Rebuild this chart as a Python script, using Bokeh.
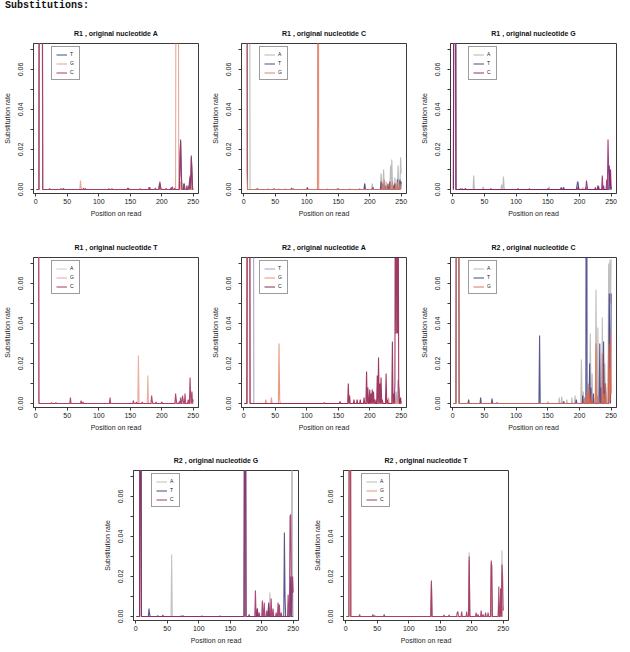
import numpy as np
from bokeh.plotting import figure
from bokeh.models import Range1d, FixedTicker, Legend, LegendItem, Div, Spacer, PrintfTickFormatter
from bokeh.layouts import row, column
from bokeh.embed import file_html
from bokeh.resources import INLINE

# ---------------- data: (position, substitution rate); all other positions 0 ----------------
POSITIONS = list(range(1, 251))

# R1, original nucleotide A
R1_A_T = [(6, 0.2), (7, 0.22), (8, 0.2), (9, 0.21), (10, 0.19), (22, 0.0004), (44, 0.0006), (79, 0.0005),
          (116, 0.0004), (147, 0.0006), (181, 0.001), (196, 0.002), (197, 0.003), (215, 0.001), (221, 0.0008),
          (229, 0.012), (230, 0.025), (231, 0.01), (235, 0.003), (240, 0.002), (244, 0.004), (245, 0.006),
          (247, 0.017), (248, 0.008)]
R1_A_G = [(6, 0.15), (7, 0.15), (8, 0.15), (9, 0.15), (10, 0.15), (71, 0.0045), (72, 0.001), (150, 0.0003),
          (200, 0.0005), (223, 0.2), (224, 0.25), (225, 0.2), (226, 0.22), (230, 0.004), (232, 0.002),
          (246, 0.003), (249, 0.002)]
R1_A_C = [(6, 0.3), (7, 0.3), (8, 0.3), (9, 0.3), (10, 0.3), (40, 0.0005), (76, 0.0008), (121, 0.0005),
          (146, 0.0008), (166, 0.0005), (180, 0.0012), (190, 0.0008), (197, 0.004), (198, 0.002), (207, 0.0006),
          (217, 0.0015), (229, 0.018), (230, 0.024), (231, 0.008), (236, 0.003), (243, 0.002), (245, 0.007),
          (247, 0.016), (248, 0.01)]

# R1, original nucleotide C
R1_C_A = [(1, 0.2), (2, 0.2), (3, 0.2), (4, 0.2), (5, 0.2), (6, 0.2), (7, 0.2), (8, 0.2), (9, 0.2),
          (20, 0.0004), (38, 0.0005), (56, 0.0004), (66, 0.0005), (76, 0.0008), (79, 0.0006), (101, 0.0008),
          (133, 0.0005), (148, 0.0005), (168, 0.0005), (184, 0.0006), (192, 0.003), (193, 0.001), (204, 0.003),
          (205, 0.001), (218, 0.008), (219, 0.004), (222, 0.01), (223, 0.004), (226, 0.004), (233, 0.012),
          (235, 0.015), (236, 0.005), (240, 0.006), (245, 0.012), (246, 0.004), (249, 0.016), (250, 0.008)]
R1_C_T = [(1, 0.2), (2, 0.2), (3, 0.2), (4, 0.2), (5, 0.2), (22, 0.0004), (48, 0.0004), (76, 0.0006),
          (101, 0.001), (150, 0.0004), (192, 0.003), (205, 0.001), (218, 0.004), (221, 0.003), (224, 0.002),
          (229, 0.003), (232, 0.004), (238, 0.002), (240, 0.003), (244, 0.005), (248, 0.005), (250, 0.004)]
R1_C_G = [(1, 0.2), (2, 0.2), (3, 0.2), (4, 0.2), (5, 0.008), (118, 0.3), (220, 0.003), (223, 0.005),
          (227, 0.002), (233, 0.004), (236, 0.004), (241, 0.002), (244, 0.004), (248, 0.003), (250, 0.002)]

# R1, original nucleotide G
R1_G_A = [(2, 0.2), (3, 0.2), (4, 0.2), (33, 0.007), (34, 0.001), (48, 0.0015), (77, 0.0025), (80, 0.0065),
          (81, 0.001), (152, 0.0015), (197, 0.002), (205, 0.001), (230, 0.002), (248, 0.01)]
R1_G_T = [(2, 0.2), (3, 0.2), (4, 0.2), (15, 0.0005), (20, 0.0006), (121, 0.0004), (171, 0.001), (175, 0.0012),
          (196, 0.002), (197, 0.004), (198, 0.003), (210, 0.001), (229, 0.002), (238, 0.002), (247, 0.012),
          (248, 0.008), (249, 0.003)]
R1_G_C = [(2, 0.25), (3, 0.25), (4, 0.25), (12, 0.0004), (60, 0.0004), (103, 0.0004), (150, 0.0005),
          (172, 0.0008), (198, 0.0015), (211, 0.0045), (212, 0.002), (225, 0.001), (230, 0.0015), (236, 0.007),
          (243, 0.005), (245, 0.025), (246, 0.01), (247, 0.006), (249, 0.01)]

# R1, original nucleotide T
R1_T_A = [(1, 0.2), (2, 0.2), (3, 0.2), (4, 0.2), (150, 0.0004), (200, 0.0006)]
R1_T_G = [(1, 0.15), (2, 0.15), (3, 0.15), (4, 0.15), (163, 0.024), (178, 0.014), (222, 0.002), (245, 0.004)]
R1_T_C = [(1, 0.3), (2, 0.3), (3, 0.3), (4, 0.3), (25, 0.0005), (32, 0.0005), (55, 0.003), (72, 0.0015),
          (75, 0.0008), (118, 0.003), (155, 0.0015), (160, 0.0008), (169, 0.0008), (184, 0.004), (185, 0.001),
          (191, 0.0008), (200, 0.0008), (222, 0.005), (223, 0.002), (228, 0.001), (230, 0.003), (233, 0.004),
          (234, 0.002), (237, 0.005), (242, 0.002), (245, 0.013), (246, 0.004), (248, 0.006), (250, 0.002)]

# R2, original nucleotide A
R2_A_T = [(6, 0.2), (7, 0.2), (8, 0.2), (9, 0.2), (10, 0.2), (11, 0.2), (12, 0.2), (13, 0.2), (14, 0.2),
          (15, 0.2), (242, 0.006), (245, 0.012), (246, 0.008), (247, 0.005)]
R2_A_G = [(6, 0.2), (7, 0.2), (8, 0.2), (9, 0.2), (35, 0.002), (44, 0.003), (56, 0.03), (57, 0.002),
          (200, 0.002), (210, 0.002), (230, 0.003), (240, 0.004), (246, 0.008), (248, 0.003)]
R2_A_C = [(6, 0.3), (7, 0.3), (8, 0.3), (9, 0.3), (128, 0.0005), (153, 0.001), (166, 0.01), (168, 0.004),
          (175, 0.002), (180, 0.002), (185, 0.002), (191, 0.003), (195, 0.016), (197, 0.008), (200, 0.007),
          (202, 0.005), (204, 0.007), (206, 0.006), (208, 0.002), (212, 0.014), (214, 0.023), (216, 0.01),
          (218, 0.013), (220, 0.002), (226, 0.015), (228, 0.002), (236, 0.031), (238, 0.005), (240, 0.01),
          (241, 0.2), (242, 0.035), (243, 0.2), (244, 0.035), (245, 0.15), (246, 0.01), (249, 0.003)]

# R2, original nucleotide C
R2_C_A = [(6, 0.2), (7, 0.2), (8, 0.2), (9, 0.2), (150, 0.001), (168, 0.003), (172, 0.0035), (180, 0.002),
          (188, 0.003), (193, 0.004), (203, 0.022), (204, 0.004), (206, 0.006), (214, 0.01), (217, 0.035),
          (218, 0.01), (220, 0.015), (226, 0.057), (227, 0.02), (229, 0.038), (236, 0.043), (237, 0.01),
          (240, 0.02), (246, 0.07), (247, 0.03), (248, 0.072), (249, 0.05), (250, 0.072)]
R2_C_T = [(6, 0.2), (7, 0.2), (8, 0.2), (9, 0.2), (25, 0.002), (44, 0.003), (62, 0.0025), (70, 0.0005),
          (137, 0.034), (175, 0.001), (195, 0.002), (205, 0.004), (211, 0.3), (216, 0.02), (218, 0.008),
          (222, 0.005), (232, 0.03), (234, 0.008), (238, 0.031), (241, 0.01), (247, 0.055), (248, 0.02),
          (250, 0.055)]
R2_C_G = [(6, 0.25), (7, 0.25), (8, 0.25), (9, 0.25), (208, 0.003), (212, 0.006), (215, 0.009), (219, 0.005),
          (226, 0.03), (228, 0.004), (236, 0.025), (238, 0.005), (241, 0.01), (246, 0.03), (248, 0.002),
          (249, 0.035), (250, 0.005)]

# R2, original nucleotide G
R2_G_A = [(7, 0.1), (8, 0.1), (57, 0.031), (72, 0.0007), (173, 0.1), (174, 0.1), (213, 0.012), (248, 0.2),
          (249, 0.02)]
R2_G_T = [(7, 0.1), (8, 0.1), (21, 0.004), (22, 0.001), (173, 0.15), (174, 0.15), (193, 0.004), (211, 0.006),
          (236, 0.042), (237, 0.01), (246, 0.02)]
R2_G_C = [(7, 0.3), (8, 0.3), (35, 0.0005), (43, 0.0007), (75, 0.0005), (105, 0.0003), (134, 0.0003),
          (173, 0.3), (174, 0.3), (180, 0.001), (190, 0.013), (193, 0.004), (196, 0.002), (201, 0.008),
          (204, 0.007), (208, 0.003), (211, 0.007), (215, 0.009), (218, 0.004), (223, 0.002), (226, 0.007),
          (228, 0.006), (231, 0.002), (242, 0.011), (245, 0.05), (246, 0.051), (247, 0.015), (249, 0.02),
          (250, 0.012)]

# R2, original nucleotide T
R2_T_A = [(6, 0.2), (7, 0.2), (136, 0.017), (196, 0.032), (231, 0.027), (248, 0.033)]
R2_T_G = [(6, 0.2), (7, 0.2), (136, 0.016), (196, 0.028), (231, 0.026), (243, 0.005), (246, 0.014),
          (249, 0.005), (250, 0.003)]
R2_T_C = [(6, 0.3), (7, 0.3), (22, 0.001), (43, 0.001), (46, 0.0005), (61, 0.001), (136, 0.018),
          (156, 0.0007), (164, 0.0007), (177, 0.002), (178, 0.0025), (184, 0.0025), (192, 0.0025), (196, 0.03),
          (207, 0.002), (210, 0.001), (215, 0.003), (218, 0.001), (222, 0.002), (226, 0.002), (231, 0.028),
          (232, 0.025), (243, 0.015), (246, 0.014), (248, 0.026), (249, 0.02), (250, 0.003)]

Y_TICKS = [0.0, 0.02, 0.04, 0.06]
Y_MINOR = [0.01, 0.03, 0.05, 0.07]
X_TICKS = [0, 50, 100, 150, 200, 250]

FONT = "Liberation Sans"
INK = "#3a3a3a"


def full_series(pairs):
    y = np.zeros(len(POSITIONS))
    for pos, val in pairs:
        y[pos - 1] = val
    return y


def panel(title, series, width, height, bl, br, bt, bb):
    p = figure(width=width, height=height, min_border_left=bl, min_border_right=br,
               min_border_top=bt, min_border_bottom=bb,
               x_range=Range1d(-3.6, 258.4), y_range=Range1d(-0.002, 0.073),
               output_backend="svg", toolbar_location=None, title=title)
    p.grid.visible = False
    p.outline_line_color = INK
    p.outline_line_width = 1
    p.background_fill_color = "white"
    p.border_fill_color = "white"

    p.title.align = "center"
    p.title.text_font = FONT
    p.title.text_font_size = "7px"
    p.title.text_font_style = "bold"
    p.title.text_color = "#111111"
    p.title.standoff = 14

    xa, ya = p.xaxis[0], p.yaxis[0]
    xa.ticker = FixedTicker(ticks=X_TICKS)
    ya.ticker = FixedTicker(ticks=Y_TICKS, minor_ticks=Y_MINOR)
    ya.formatter = PrintfTickFormatter(format="%.2f")
    ya.major_label_orientation = "vertical"
    xa.axis_label = "Position on read"
    ya.axis_label = "Substitution rate"
    for ax in (xa, ya):
        ax.axis_line_color = INK
        ax.major_tick_line_color = INK
        ax.minor_tick_line_color = INK
        ax.major_tick_in = 0
        ax.major_tick_out = 3
        ax.minor_tick_in = 0
        ax.minor_tick_out = 3
        ax.major_label_text_font = FONT
        ax.major_label_text_font_size = "7px"
        ax.major_label_text_color = "#222222"
        ax.axis_label_text_font = FONT
        ax.axis_label_text_font_size = "7px"
        ax.axis_label_text_font_style = "normal"
        ax.axis_label_text_color = "#222222"
    xa.minor_tick_line_color = None
    xa.major_label_standoff = 2
    xa.axis_label_standoff = 3
    ya.major_label_standoff = 8
    ya.axis_label_standoff = 4

    items = []
    for name, pairs, color in series:
        r = p.line(POSITIONS, full_series(pairs), line_color=color, line_width=1.1, line_alpha=0.85)
        items.append(LegendItem(label=name, renderers=[r]))
    leg = Legend(items=items, location=(18, 113), orientation="vertical",
                 label_text_font=FONT, label_text_font_size="5px", label_text_color="#222222",
                 label_height=5, label_width=5, glyph_height=5, glyph_width=11, label_standoff=3,
                 spacing=3, padding=4, margin=0, border_line_color=INK, border_line_width=1,
                 background_fill_color="white", background_fill_alpha=1.0)
    p.add_layout(leg)
    return p


GRAY = "#b0b0b0"
NAVY = "#3f3f7f"
SALMON = "#e59a84"

# row 1 (frames at x 32, 240, 450; y 43..193)
f1 = panel("R1 , original nucleotide A",
           [("T", R1_A_T, NAVY), ("G", R1_A_G, SALMON), ("C", R1_A_C, "#a0305f")],
           208, 214, 32, 10, 29, 35)
f2 = panel("R1 , original nucleotide C",
           [("A", R1_C_A, GRAY), ("T", R1_C_T, "#40407a"), ("G", R1_C_G, "#df7a62")],
           209, 214, 32, 11, 29, 35)
f3 = panel("R1 , original nucleotide G",
           [("A", R1_G_A, GRAY), ("T", R1_G_T, "#45408a"), ("C", R1_G_C, "#951c60")],
           207, 214, 33, 8, 29, 35)
# row 2 (frames y 257..407)
f4 = panel("R1 , original nucleotide T",
           [("A", R1_T_A, "#c8c8c8"), ("G", R1_T_G, "#e8a090"), ("C", R1_T_C, "#a02a5a")],
           208, 213, 32, 10, 29, 34)
f5 = panel("R2 , original nucleotide A",
           [("T", R2_A_T, "#9898c4"), ("G", R2_A_G, "#e88a70"), ("C", R2_A_C, "#8e1848")],
           209, 213, 32, 11, 29, 34)
f6 = panel("R2 , original nucleotide C",
           [("A", R2_C_A, "#b4b4b4"), ("T", R2_C_T, "#3a3a80"), ("G", R2_C_G, "#e06a4a")],
           207, 213, 33, 8, 29, 34)
# row 3 (frames x 132, 342; y 470..620)
f7 = panel("R2 , original nucleotide G",
           [("A", R2_G_A, "#b8b8b8"), ("T", R2_G_T, "#3a3a7a"), ("C", R2_G_C, "#9e2860")],
           210, 209, 32, 12, 29, 30)
f8 = panel("R2 , original nucleotide T",
           [("A", R2_T_A, "#b4b4b4"), ("G", R2_T_G, "#e08c74"), ("C", R2_T_C, "#a0305e")],
           208, 209, 32, 10, 29, 30)

header = Div(text="Substitutions:", width=300, height=14, margin=(0, 0, 0, 0),
             styles={"font-family": "'Liberation Mono', monospace", "font-weight": "bold",
                     "font-size": "10px", "line-height": "12px", "color": "#111111",
                     "padding-left": "5px"})

layout = column(header,
                row(f1, f2, f3),
                row(f4, f5, f6),
                row(Spacer(width=100, height=209), f7, f8))

open("out.html", "w").write(file_html(layout, INLINE))
